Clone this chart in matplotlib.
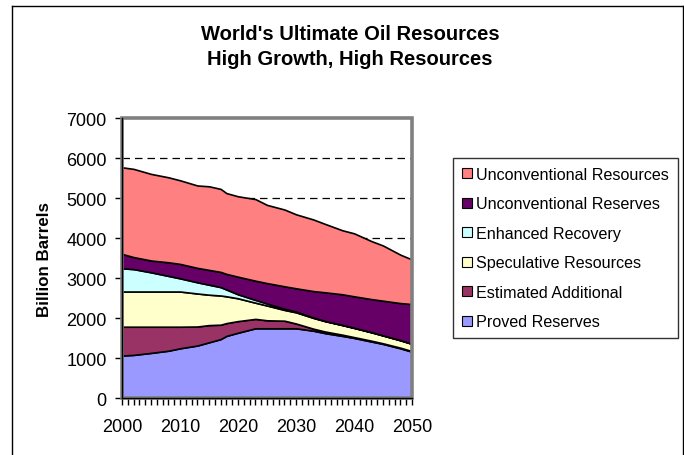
import matplotlib
matplotlib.use("Agg")
import matplotlib.pyplot as plt
from matplotlib.patches import Patch, Rectangle
from matplotlib.lines import Line2D
import numpy as np

plt.rcParams['font.family'] = ['Liberation Sans', 'DejaVu Sans']

years = [2000, 2002, 2005, 2008, 2010, 2013, 2015, 2017, 2018, 2020, 2023,
         2025, 2028, 2030, 2033, 2035, 2038, 2040, 2043, 2045, 2048, 2050]

# Billion barrels per category (stacked from the bottom up)
proved_reserves = [1070, 1085, 1135, 1190, 1250, 1320, 1400, 1480, 1560, 1640, 1750,
                   1750, 1750, 1750, 1690, 1630, 1560, 1510, 1420, 1360, 1250, 1165]
estimated_additional = [720, 705, 655, 600, 540, 475, 430, 360, 320, 290, 235,
                        200, 190, 120, 50, 40, 30, 20, 20, 15, 15, 15]
speculative_resources = [880, 880, 880, 880, 880, 825, 760, 730, 670, 570, 405,
                         370, 270, 280, 270, 260, 240, 230, 210, 195, 185, 180]
enhanced_recovery = [580, 560, 480, 390, 330, 280, 250, 210, 170, 100, 70,
                     50, 30, 20, 10, 5, 5, 5, 5, 5, 5, 5]
unconventional_reserves = [360, 300, 295, 340, 360, 360, 370, 380, 390, 440, 480,
                           510, 560, 580, 660, 715, 765, 785, 825, 865, 925, 990]
unconventional_resources = [2165, 2205, 2165, 2125, 2090, 2060, 2090, 2075, 2020, 2010, 2040,
                            1955, 1920, 1850, 1790, 1710, 1600, 1575, 1450, 1380, 1210, 1115]

series_names = ["Proved Reserves", "Estimated Additional", "Speculative Resources",
                "Enhanced Recovery", "Unconventional Reserves", "Unconventional Resources"]
series_colors = ["#9999FF", "#993366", "#FFFFCC", "#CCFFFF", "#660066", "#FF8080"]

y_ticks = [0, 1000, 2000, 3000, 4000, 5000, 6000, 7000]
x_ticks = [2000, 2010, 2020, 2030, 2040, 2050]

W, H = 684, 456
fig = plt.figure(figsize=(W / 100, H / 100), dpi=100)
fig.patch.set_facecolor("white")

ax = fig.add_axes([122 / W, 1 - 399.3 / H, 290 / W, 280 / H])
ax.set_facecolor("white")

# dashed gridlines behind the areas
for v in y_ticks[1:-1]:
    ax.axhline(v, color="black", lw=0.9, ls=(0, (6, 4)), zorder=0)

ax.stackplot(years,
             proved_reserves, estimated_additional, speculative_resources,
             enhanced_recovery, unconventional_reserves, unconventional_resources,
             colors=series_colors, edgecolor="black", linewidth=1.2, zorder=2)

ax.set_xlim(2000, 2050)
ax.set_ylim(0, 7000)

# grey plot-area frame
ax.add_patch(Rectangle((0, 0), 1, 1, transform=ax.transAxes, fill=False,
                       edgecolor="#808080", lw=2.6, zorder=3, clip_on=False))
for s in ["top", "right"]:
    ax.spines[s].set_visible(False)
for s in ["left", "bottom"]:
    ax.spines[s].set_color("black")
    ax.spines[s].set_linewidth(1.0)
    ax.spines[s].set_zorder(4)

ax.set_yticks(y_ticks)
ax.set_yticklabels([str(v) for v in y_ticks], fontsize=13)
ax.set_xticks(x_ticks)
ax.set_xticklabels([str(v) for v in x_ticks], fontsize=13)
ax.set_xticks(np.arange(2000, 2051, 1), minor=True)
ax.tick_params(axis="y", direction="out", length=5, width=1, pad=6)
ax.tick_params(axis="x", which="both", direction="out", length=5, width=1, pad=9)
ax.tick_params(axis="x", which="minor", length=5)

ax.set_ylabel("Billion Barrels", fontsize=12.2, fontweight="bold", labelpad=10)

fig.text(350 / W, 1 - 34.5 / H, "World's Ultimate Oil Resources", ha="center", va="center",
         fontsize=14.5, fontweight="bold")
fig.text(350 / W, 1 - 59.5 / H, "High Growth, High Resources", ha="center", va="center",
         fontsize=14.5, fontweight="bold")

handles = [Patch(facecolor=c, edgecolor="black", lw=0.8, label=n)
           for n, c in zip(series_names, series_colors)][::-1]
leg = fig.legend(handles=handles, loc="upper left",
                 bbox_to_anchor=(453 / W, 1 - 159 / H), bbox_transform=fig.transFigure,
                 fontsize=11.6, frameon=True, fancybox=False, shadow=False,
                 handlelength=0.6, handleheight=0.6, handletextpad=0.3,
                 labelspacing=0.9, borderpad=0.55, borderaxespad=0)
leg.get_frame().set_edgecolor("black")
leg.get_frame().set_linewidth(1.0)

# outer chart border
for xs, ys in [([12, 12], [7, 456]), ([12, 682.5], [7, 7]), ([682.5, 682.5], [7, 456])]:
    fig.add_artist(Line2D([x / W for x in xs], [1 - y / H for y in ys],
                          transform=fig.transFigure, color="black", lw=1.0))

fig.savefig("out.png", dpi=100)
